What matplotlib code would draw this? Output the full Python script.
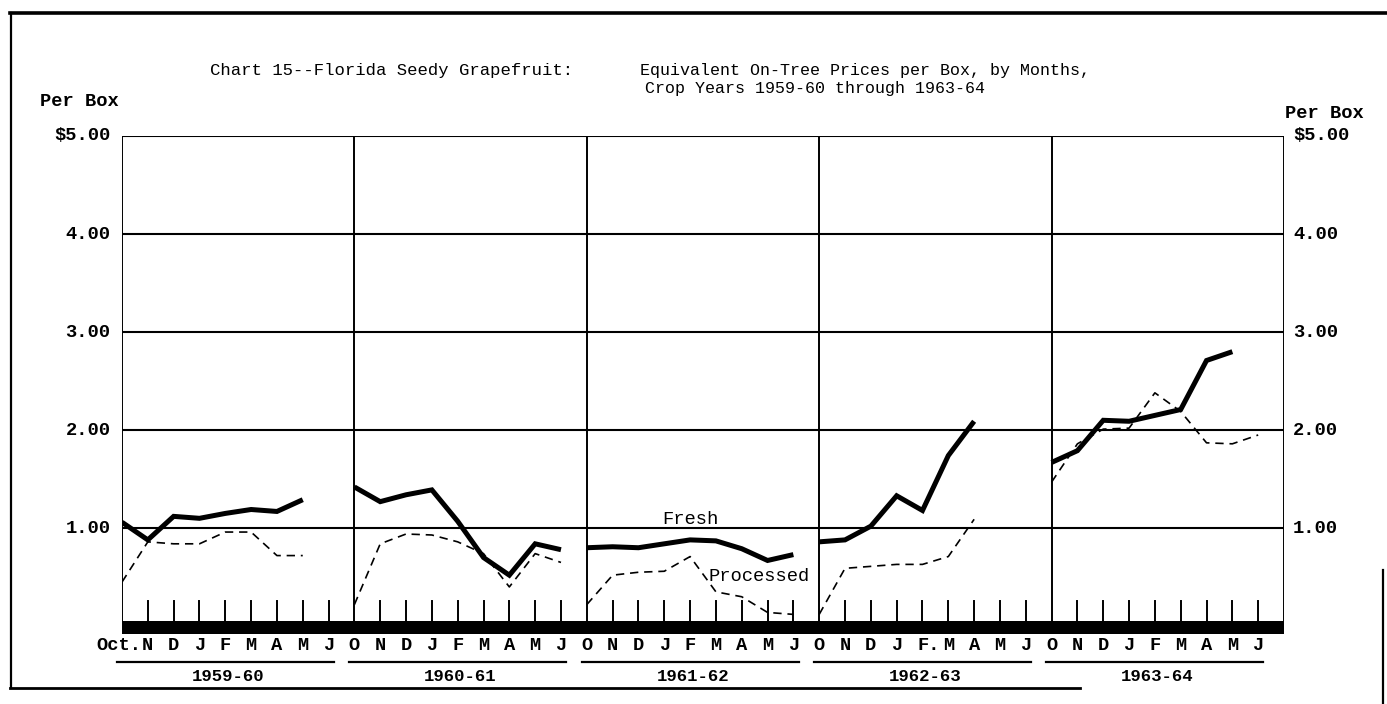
import matplotlib
matplotlib.use("Agg")
import matplotlib.pyplot as plt
from matplotlib.lines import Line2D
import numpy as np

# ---------------- data ----------------
months = ["O", "N", "D", "J", "F", "M", "A", "M", "J"]
years = ["1959-60", "1960-61", "1961-62", "1962-63", "1963-64"]

fresh_1959 = [1.06, 0.88, 1.12, 1.10, 1.15, 1.19, 1.17, 1.29, None]
fresh_1960 = [1.42, 1.27, 1.34, 1.39, 1.07, 0.70, 0.52, 0.84, 0.78]
fresh_1961 = [0.80, 0.81, 0.80, 0.84, 0.88, 0.87, 0.79, 0.67, 0.73]
fresh_1962 = [0.86, 0.88, 1.02, 1.33, 1.18, 1.74, 2.09, None, None]
fresh_1963 = [1.67, 1.79, 2.10, 2.09, 2.15, 2.21, 2.71, 2.80, None]

proc_1959 = [0.45, 0.86, 0.84, 0.84, 0.96, 0.96, 0.72, 0.72, None]
proc_1960 = [0.22, 0.84, 0.94, 0.93, 0.86, 0.74, 0.40, 0.74, 0.65]
proc_1961 = [0.22, 0.52, 0.55, 0.56, 0.71, 0.35, 0.30, 0.14, 0.12]
proc_1962 = [0.12, 0.59, 0.61, 0.63, 0.63, 0.71, 1.09, None, None]
proc_1963 = [1.47, 1.86, 2.01, 2.02, 2.38, 2.19, 1.87, 1.86, 1.95]

fresh = [fresh_1959, fresh_1960, fresh_1961, fresh_1962, fresh_1963]
processed = [proc_1959, proc_1960, proc_1961, proc_1962, proc_1963]

ytick_vals = [1, 2, 3, 4, 5]
ytick_labels = ["1.00", "2.00", "3.00", "4.00", "$5.00"]

title1 = "Chart 15--Florida Seedy Grapefruit:"
title2 = "Equivalent On-Tree Prices per Box, by Months,"
title3 = "Crop Years 1959-60 through 1963-64"

# ---------------- figure ----------------
FONT = "Liberation Mono"
W, H = 1387, 704
fig = plt.figure(figsize=(W / 100, H / 100), dpi=100)
fig.patch.set_facecolor("white")

x_left, x_right = 122, 1284
y_top, y_bot = 136, 634
ax = fig.add_axes([x_left / W, 1 - y_bot / H, (x_right - x_left) / W, (y_bot - y_top) / H])
ax.set_xlim(0, 45)
ax.set_ylim(-0.08, 5.0)
ax.axis("off")

n_m = len(months)
step = 9

# grid lines
for v in ytick_vals:
    ax.plot([0, 45], [v, v], color="black", lw=1.5, solid_capstyle="butt")
# year dividers / spines
for k in range(len(years) + 1):
    ax.plot([k * step, k * step], [0, 5], color="black", lw=1.4)
# bottom bar
ax.fill_between([0, 45], -0.08, 0.05, color="black", lw=0)
# month ticks
for k in range(len(years)):
    for m in range(1, n_m):
        x = k * step + m
        ax.plot([x, x], [0, 0.26], color="black", lw=1.4)

# series
for k in range(len(years)):
    xs = [k * step + m for m in range(n_m)]
    f = [np.nan if v is None else v for v in fresh[k]]
    p = [np.nan if v is None else v for v in processed[k]]
    ax.plot(xs, p, color="black", lw=1.2, linestyle=(0, (5, 3.5)))
    ax.plot(xs, f, color="black", lw=3.6, solid_joinstyle="miter", solid_capstyle="butt")

# series labels
ax.text(22.0, 1.0, "Fresh", fontfamily=FONT, fontsize=13.5, ha="center", va="bottom")
ax.text(22.7, 0.51, "Processed", fontfamily=FONT, fontsize=13.5, ha="left", va="center")

# y labels left & right
for v, lab in zip(ytick_vals, ytick_labels):
    ax.text(-0.45, v, lab, fontfamily=FONT, fontsize=13.5, fontweight="bold",
            ha="right", va="center", clip_on=False)
    ax.text(45.35, v, lab, fontfamily=FONT, fontsize=13.5, fontweight="bold",
            ha="left", va="center", clip_on=False)
fig.text(40 / W, 1 - 102 / H, "Per Box", fontfamily=FONT, fontsize=13.5,
         fontweight="bold", ha="left", va="center")
fig.text(1285 / W, 1 - 113 / H, "Per Box", fontfamily=FONT, fontsize=13.5,
         fontweight="bold", ha="left", va="center")

# month labels
for k in range(len(years)):
    for m, lab in enumerate(months):
        x = k * step + m
        if k == 0 and m == 0:
            ax.text(0.75, -0.2, "Oct.", fontfamily=FONT, fontsize=13.5, fontweight="bold",
                    ha="right", va="center", clip_on=False)
            continue
        if k == 3 and m == 4:
            ax.text(x - 0.2, -0.2, "F.", fontfamily=FONT, fontsize=13.5, fontweight="bold",
                    ha="left", va="center", clip_on=False)
            continue
        ax.text(x, -0.2, lab, fontfamily=FONT, fontsize=13.5, fontweight="bold",
                ha="center", va="center", clip_on=False)
    # underline and year label
    ax.plot([k * step - 0.2, k * step + 8.2], [-0.37, -0.37], color="black", lw=1.6,
            clip_on=False)
    ax.text(k * step + 4.1, -0.51, years[k], fontfamily=FONT, fontsize=12.5,
            fontweight="bold", ha="center", va="center", clip_on=False)

# title
fig.text(210 / W, 1 - 70 / H, title1, fontfamily=FONT, fontsize=12.4, ha="left", va="center")
fig.text(640 / W, 1 - 70 / H, title2, fontfamily=FONT, fontsize=12.0, ha="left", va="center")
fig.text(645 / W, 1 - 88 / H, title3, fontfamily=FONT, fontsize=12.0, ha="left", va="center")

# outer frame
def fline(x0, y0, x1, y1, lw):
    fig.add_artist(Line2D([x0 / W, x1 / W], [1 - y0 / H, 1 - y1 / H], color="black", lw=lw,
                          transform=fig.transFigure))

fline(10, 13, 1387, 13, 2.6)
fline(11, 13, 11, 688, 1.6)
fline(10, 688, 1080, 688, 2.0)
fline(1383, 570, 1383, 704, 1.6)

fig.savefig("out.png", dpi=100, facecolor="white")
